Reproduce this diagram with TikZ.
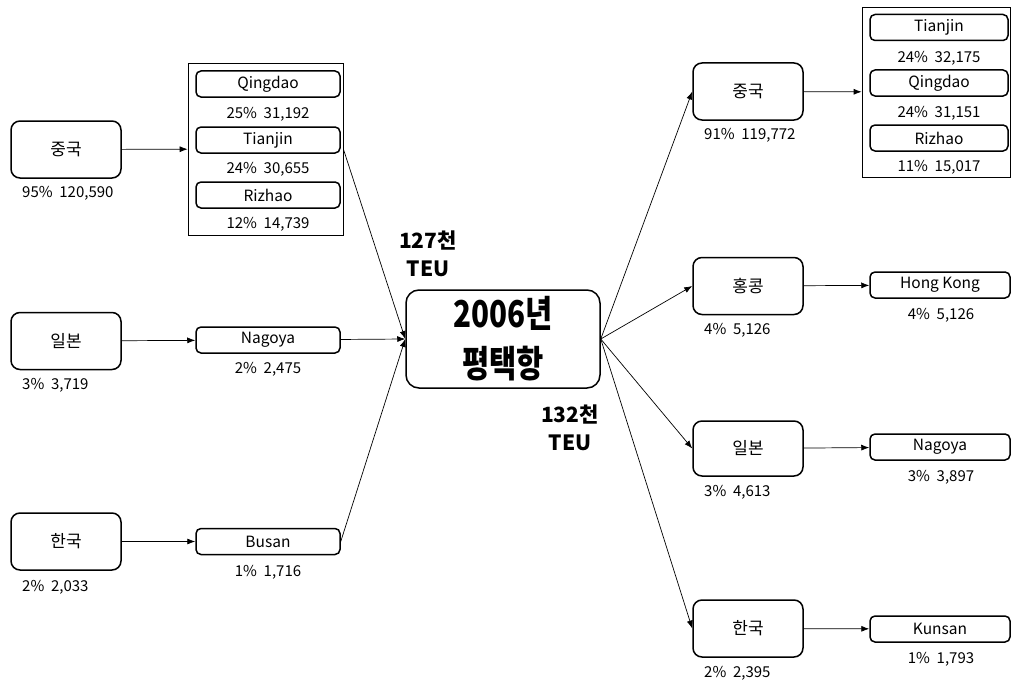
\documentclass[tikz,border=0pt]{standalone}
\usepackage{fontspec}
\setmainfont{Noto Sans CJK KR}
\newfontfamily\titlefont[FakeStretch=0.8]{Noto Sans CJK KR}
\usetikzlibrary{arrows.meta,positioning}

\begin{document}
\begin{tikzpicture}[x=1pt,y=-1pt,>={Latex[length=8pt,width=6pt]},
  country/.style={draw,line width=1.5pt,rounded corners=9pt,minimum width=110pt,minimum height=57pt,inner sep=0pt,font=\fontsize{17}{20}\selectfont},
  port/.style={draw,line width=1.5pt,rounded corners=5pt,minimum width=144pt,minimum height=26pt,inner sep=0pt,font=\fontsize{15.5}{18}\selectfont},
  group/.style={draw,line width=0.7pt,inner sep=0pt},
  share/.style={inner sep=0pt,font=\fontsize{15}{17}\selectfont},
  hub/.style={draw,line width=1.5pt,rounded corners=13pt,minimum width=194pt,minimum height=98pt,inner sep=0pt,align=center,font=\titlefont\bfseries\fontsize{37}{50}\selectfont},
  teu/.style={inner sep=0pt,align=center,font=\bfseries\fontsize{21}{28}\selectfont},
  link/.style={->,line width=0.7pt}]
\useasboundingbox (0,0) rectangle (1012,685);
% origin side
\node[country] (cnL) at (66,149.5) {중국};
\node[share,anchor=west] at (22,193) {95\%\ \ 120,590};
\node[group,minimum width=155pt,minimum height=172pt] (grpL) at (265.5,149) {};
\node[port] (qdL) at (268,84) {Qingdao};
\node[share] at (268,114) {25\%\ \ 31,192};
\node[port] (tjL) at (268,140) {Tianjin};
\node[share] at (268,169) {24\%\ \ 30,655};
\node[port] (rzL) at (268,195) {Rizhao};
\node[share] at (268,224) {12\%\ \ 14,739};
\node[country] (jpL) at (66,341) {일본};
\node[share,anchor=west] at (22,385) {3\%\ \ 3,719};
\node[port] (ngL) at (268,340) {Nagoya};
\node[share] at (268,369) {2\%\ \ 2,475};
\node[country] (krL) at (66,541.5) {한국};
\node[share,anchor=west] at (22,587) {2\%\ \ 2,033};
\node[port] (bsL) at (268,541.5) {Busan};
\node[share] at (268,572) {1\%\ \ 1,716};
% hub
\node[hub] (hub) at (503,339) {2006년\\평택항};
\node[teu] (inTEU) at (428,254) {127천\\TEU};
\node[teu] (outTEU) at (570,428) {132천\\TEU};
% destination side
\node[country] (cnR) at (748,91.5) {중국};
\node[share,anchor=west] at (704,135) {91\%\ \ 119,772};
\node[group,minimum width=148pt,minimum height=170pt] (grpR) at (936,92) {};
\node[port,minimum width=138pt] (tjR) at (939,27.5) {Tianjin};
\node[share] at (939,58) {24\%\ \ 32,175};
\node[port,minimum width=138pt] (qdR) at (939,83) {Qingdao};
\node[share] at (939,113) {24\%\ \ 31,151};
\node[port,minimum width=138pt] (rzR) at (939,138) {Rizhao};
\node[share] at (939,167) {11\%\ \ 15,017};
\node[country] (hkR) at (748,286) {홍콩};
\node[share,anchor=west] at (704,330) {4\%\ \ 5,126};
\node[port,minimum width=140pt] (hkP) at (940,285) {Hong Kong};
\node[share] at (941,315) {4\%\ \ 5,126};
\node[country,minimum height=55pt] (jpR) at (748,448.5) {일본};
\node[share,anchor=west] at (704,492) {3\%\ \ 4,613};
\node[port,minimum width=140pt] (ngR) at (940,447) {Nagoya};
\node[share] at (941,477) {3\%\ \ 3,897};
\node[country] (krR) at (748,628.5) {한국};
\node[share,anchor=west] at (704,673) {2\%\ \ 2,395};
\node[port,minimum width=140pt] (ksR) at (940,629) {Kunsan};
\node[share] at (941,659) {1\%\ \ 1,793};
% connectors
\draw[link] (cnL)--(grpL);\draw[link] (jpL)--(ngL);\draw[link] (krL)--(bsL);
\draw[link] (grpL.east)--(hub.west);\draw[link] (ngL)--(hub.west);\draw[link] (bsL.east)--(hub.west);
\draw[link] (hub.east)--(cnR.west);\draw[link] (hub.east)--(hkR.west);\draw[link] (hub.east)--(jpR.west);\draw[link] (hub.east)--(krR.west);
\draw[link] (cnR)--(grpR);\draw[link] (hkR)--(hkP);\draw[link] (jpR)--(ngR);\draw[link] (krR)--(ksR);
\end{tikzpicture}
\end{document}
